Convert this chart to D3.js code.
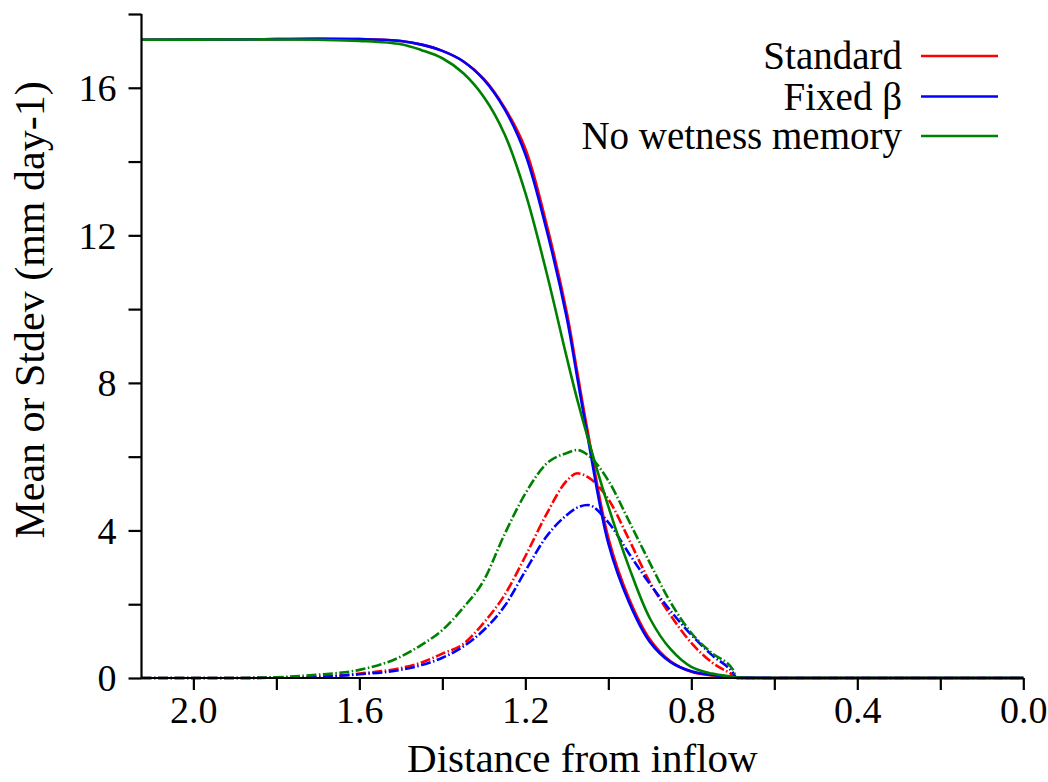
<!DOCTYPE html>
<html>
<head>
<meta charset="utf-8">
<script src="https://cdn.jsdelivr.net/npm/d3@7"></script>
<style>
  html, body { margin: 0; padding: 0; background: #fff; }
  svg { display: block; }
</style>
</head>
<body>
<svg id="chart" width="1048" height="782"></svg>
<script>
// Distance from inflow (shared grid)
const distance = [2.125, 1.9, 1.8, 1.7, 1.6, 1.5, 1.45, 1.4, 1.35, 1.3, 1.25, 1.2, 1.15, 1.1, 1.075, 1.05, 1.0, 0.95, 0.9, 0.85, 0.8, 0.75, 0.7, 0.69, 0.6, 0.4, 0.2, 0.0];

// Mean (solid)
const meanStandard = [17.30, 17.31, 17.32, 17.33, 17.32, 17.27, 17.17, 17.00, 16.72, 16.24, 15.46, 14.35, 12.35, 9.90, 8.30, 6.70, 3.80, 2.15, 1.05, 0.45, 0.17, 0.07, 0.02, 0.01, 0, 0, 0, 0];
const meanFixedBeta = [17.30, 17.31, 17.32, 17.33, 17.32, 17.27, 17.17, 17.00, 16.72, 16.22, 15.42, 14.20, 12.20, 9.75, 8.15, 6.55, 3.65, 2.05, 0.98, 0.43, 0.18, 0.08, 0.03, 0.02, 0, 0, 0, 0];
const meanNoMemory = [17.30, 17.31, 17.31, 17.30, 17.27, 17.18, 17.02, 16.80, 16.40, 15.75, 14.74, 13.15, 11.04, 8.68, 7.55, 6.53, 4.65, 3.00, 1.62, 0.78, 0.30, 0.12, 0.03, 0.01, 0, 0, 0, 0];

// Stdev (dash-dot)
const sdStandard = [0, 0, 0.01, 0.03, 0.12, 0.27, 0.42, 0.66, 0.92, 1.50, 2.25, 3.30, 4.42, 5.35, 5.55, 5.45, 4.85, 3.75, 2.60, 1.70, 0.95, 0.42, 0.08, 0, 0, 0, 0, 0];
const sdFixedBeta = [0, 0, 0.01, 0.03, 0.10, 0.22, 0.35, 0.55, 0.85, 1.30, 1.95, 2.90, 3.82, 4.42, 4.62, 4.69, 4.22, 3.37, 2.55, 1.82, 1.17, 0.62, 0.15, 0, 0, 0, 0, 0];
const sdNoMemory = [0, 0, 0.02, 0.09, 0.22, 0.58, 0.90, 1.30, 1.90, 2.65, 3.90, 5.00, 5.80, 6.10, 6.18, 6.05, 5.35, 4.25, 3.12, 2.05, 1.22, 0.67, 0.23, 0, 0, 0, 0, 0];

const seriesNames = ["Standard", "Fixed \u03b2", "No wetness memory"];
const seriesColors = ["#ff0000", "#0000ff", "#008000"];
const meanSeries = [meanStandard, meanFixedBeta, meanNoMemory];
const sdSeries = [sdStandard, sdFixedBeta, sdNoMemory];

const xTickValues = [2.0, 1.6, 1.2, 0.8, 0.4, 0.0];
const xMinorValues = [2.0, 1.8, 1.6, 1.4, 1.2, 1.0, 0.8, 0.6, 0.4, 0.2, 0.0];
const yTickValues = [0, 4, 8, 12, 16];
const yMinorValues = [0, 2, 4, 6, 8, 10, 12, 14, 16, 18];

const xLabel = "Distance from inflow";
const yLabel = "Mean or Stdev (mm day-1)";

const FONT = "'Liberation Serif', 'Times New Roman', Times, 'DejaVu Serif', serif";

const svg = d3.select("#chart").style("font-family", FONT);
const L = 141.5, R = 1023.3, T = 14, B = 678;

const x = d3.scaleLinear().domain([2.125, 0]).range([L, R]);
const y = d3.scaleLinear().domain([0, 18]).range([B, T]);

const lineGen = (vals, curve) => d3.line()
  .x((d, i) => x(distance[i]))
  .y(d => y(Math.max(0, d)))
  .curve(curve)(vals);

// curves
const g = svg.append("g");
meanSeries.forEach((vals, k) => {
  g.append("path").attr("d", lineGen(vals, d3.curveCatmullRom.alpha(0.5)))
    .attr("fill", "none").attr("stroke", seriesColors[k]).attr("stroke-width", 2.6);
  g.append("path").attr("d", lineGen(sdSeries[k], d3.curveMonotoneX))
    .attr("fill", "none").attr("stroke", seriesColors[k]).attr("stroke-width", 2.6)
    .attr("stroke-dasharray", "10,2.5,1.5,2.5");
});

// axes
const ax = svg.append("g");
const yAxis = d3.axisLeft(y).tickValues(yMinorValues).tickSize(13)
  .tickFormat(d => yTickValues.includes(d) ? d3.format("d")(d) : "");
const gy = ax.append("g").attr("transform", `translate(${L},0)`).call(yAxis)
  .attr("font-family", null).attr("font-size", null);
gy.select(".domain").attr("d", `M0,${T}V${B}`).attr("stroke", "#000").attr("stroke-width", 2.2);
gy.selectAll(".tick line").attr("stroke", "#000").attr("stroke-width", 2.2);
gy.selectAll(".tick text").attr("x", -25).attr("dy", "0.34em")
  .style("font-family", FONT).style("font-size", "38px").attr("fill", "#000");

const xAxis = d3.axisBottom(x).tickValues(xMinorValues).tickSize(12)
  .tickFormat(d => xTickValues.some(v => Math.abs(v - d) < 1e-9) ? d3.format(".1f")(d) : "");
const gx = ax.append("g").attr("transform", `translate(0,${B})`).call(xAxis)
  .attr("font-family", null).attr("font-size", null);
gx.select(".domain").attr("d", `M${L},0H${R}`).attr("stroke", "#000").attr("stroke-width", 2.2);
gx.selectAll(".tick line").attr("stroke", "#000").attr("stroke-width", 2.2);
gx.selectAll(".tick text").attr("y", 45).attr("dy", 0)
  .style("font-family", FONT).style("font-size", "38px").attr("fill", "#000");

// axis labels
svg.append("text").attr("x", (L + R) / 2).attr("y", 772)
  .attr("text-anchor", "middle").style("font-family", FONT).style("font-size", "41px").text(xLabel);
svg.append("text").attr("transform", "translate(44,310) rotate(-90)")
  .attr("text-anchor", "middle").style("font-family", FONT).style("font-size", "42px").text(yLabel);

// legend
const legY = [56, 96.5, 136];
seriesNames.forEach((name, k) => {
  svg.append("text").attr("x", 902).attr("y", legY[k] + 13)
    .attr("text-anchor", "end").style("font-family", FONT).style("font-size", "39px").text(name);
  svg.append("line").attr("x1", 921).attr("x2", 998)
    .attr("y1", legY[k]).attr("y2", legY[k])
    .attr("stroke", seriesColors[k]).attr("stroke-width", 2.6);
});
</script>
</body>
</html>
